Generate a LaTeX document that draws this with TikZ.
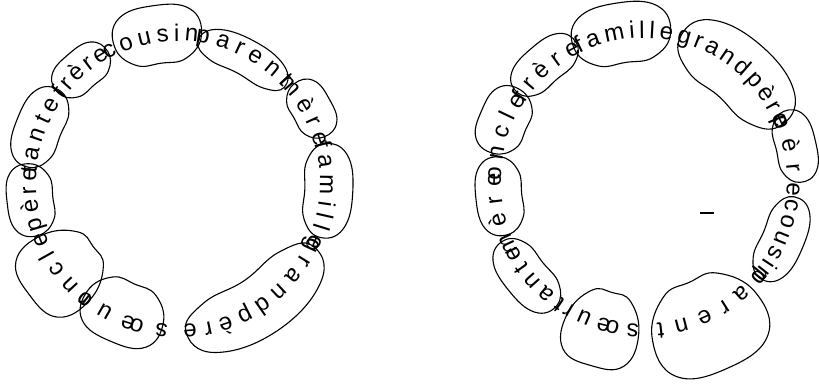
\documentclass[tikz,border=0pt]{standalone}
\usepackage{fontspec}
\setmainfont{Liberation Sans}
\usetikzlibrary{decorations.text}
\newcommand{\wordfont}{\fontsize{24}{24}\selectfont}
% a word set clockwise on the circle, baseline at \rbase
\newcommand{\wordarc}[3]{%
  \path[decorate, decoration={text along path, text={|\wordfont|#3}, text align={fit to path}}]
    (#1:\rbase) arc[start angle=#1, end angle=#2, radius=\rbase];}
% a loop round one word: mid angle, half angle, mid radius, half width
\newcommand{\blob}[4]{%
  \draw[blob] plot[smooth cycle, tension=0.75] coordinates {
    ({#1+#2}:{#3}) ({#1+0.7*#2}:{#3+0.85*#4}) (#1:{#3+#4}) ({#1-0.7*#2}:{#3+0.85*#4})
    ({#1-#2}:{#3}) ({#1-0.7*#2}:{#3-0.85*#4}) (#1:{#3-#4}) ({#1+0.7*#2}:{#3-0.85*#4})};}

\begin{document}
\begin{tikzpicture}[
  x=1pt, y=1pt,
  blob/.style={draw=black, line width=1.1pt},
]
\useasboundingbox (0,0) rectangle (819,-387);

% ------------------------------------------------------------ left ring
\begin{scope}[shift={(178,-183)}]
\coordinate (leftring) at (0,0);
\def\rbase{142}
\wordarc{-94}{-130}{sœur}
\wordarc{-126}{-160}{oncle}
\wordarc{-161}{-186}{père}
\wordarc{176}{146}{tante}
\wordarc{144}{118.5}{frère}
\wordarc{120}{82}{cousin}
\wordarc{83}{42.5}{parent}
\wordarc{45}{14.5}{mère}
\wordarc{16}{-26}{famille}
\wordarc{-22}{-88}{grandpère}
\blob{-113}{17}{141}{31}
\blob{-143}{16}{146}{40}
\blob{-173.4}{14}{149}{23}
\blob{158}{16}{150}{23}
\blob{130.6}{12.5}{149}{20}
\blob{98}{17}{150}{29}
\blob{62}{20}{143}{18}
\blob{29}{11.5}{153}{20}
\blob{-3}{18}{151}{24}
\blob{-56}{31}{148}{30}
\end{scope}

% ------------------------------------------------------------ right ring
\begin{scope}[shift={(644,-181)}]
\coordinate (rightring) at (0,0);
\def\rbase{143}
\wordarc{117}{78.7}{famille}
\wordarc{77}{21.5}{grandpère}
\wordarc{26}{-6}{père}
\wordarc{-7}{-41}{cousin}
\wordarc{-37}{-85}{parent}
\wordarc{-92}{-122}{sœur}
\wordarc{-123}{-153.5}{tante}
\wordarc{-151}{-183}{mère}
\wordarc{180}{145}{oncle}
\wordarc{147}{116}{frère}
\blob{98.8}{19}{150}{30}
\blob{49}{27}{146}{33}
\blob{13}{13.5}{156}{20}
\blob{-23}{17}{151}{21}
\blob{-66}{21}{158}{47}
\blob{-106}{14}{154}{38}
\blob{-141}{16}{152}{22}
\blob{-174}{15.5}{146}{23}
\blob{156.6}{13}{153}{24}
\blob{130.6}{14.5}{154}{20}
\draw[blob] (56,-32) -- (70,-32);
\end{scope}

\end{tikzpicture}
\end{document}
